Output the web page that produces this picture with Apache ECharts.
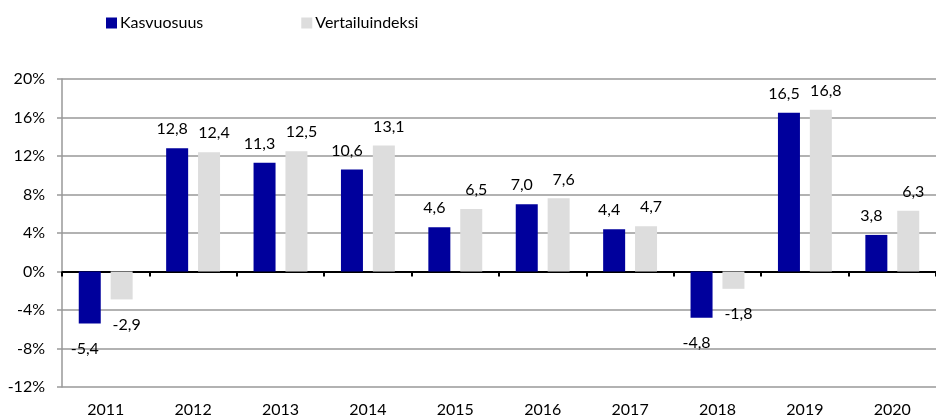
<!DOCTYPE html>
<html>
<head>
<meta charset="utf-8">
<script src="https://cdn.jsdelivr.net/npm/echarts@6/dist/echarts.min.js"></script>
<style>
  html, body { margin: 0; padding: 0; background: #fff; }
  #chart { width: 936px; height: 419px; }
</style>
</head>
<body>
<div id="chart"></div>
<script>
const years = ['2011', '2012', '2013', '2014', '2015', '2016', '2017', '2018', '2019', '2020'];
const kasvuosuus = [-5.4, 12.8, 11.3, 10.6, 4.6, 7.0, 4.4, -4.8, 16.5, 3.8];
const vertailuindeksi = [-2.9, 12.4, 12.5, 13.1, 6.5, 7.6, 4.7, -1.8, 16.8, 6.3];
const yTicks = { min: -12, max: 20, interval: 4 };

const font = 'Lato, "Open Sans", sans-serif';

// negatiivisille arvoille label vähän kauemmas palkin alle
const toItems = (list) => list.map((v) => ({
  value: v,
  label: v < 0 ? { distance: 17 } : {},
}));

const fmt = (p) => p.value.toFixed(1).replace('.', ',');

const chart = echarts.init(document.getElementById('chart'), null, { renderer: 'canvas' });

chart.setOption({
  animation: false,
  textStyle: { fontFamily: font },
  legend: {
    left: 101,
    top: 10,
    itemWidth: 11,
    itemHeight: 11,
    itemGap: 98,
    icon: 'rect',
    textStyle: { fontFamily: font, fontSize: 16, color: '#000', padding: [0, 0, 0, -2] },
    data: ['Kasvuosuus', 'Vertailuindeksi'],
  },
  grid: { left: 62, right: -11, top: 79, bottom: 32 },
  xAxis: [
    {
      type: 'category',
      data: years,
      axisLine: { onZero: true, lineStyle: { color: '#000', width: 2 } },
      axisTick: { show: true, length: 5, lineStyle: { color: '#000', width: 2 } },
      axisLabel: { show: false },
    },
    {
      type: 'category',
      data: years,
      position: 'bottom',
      axisLine: { show: false },
      axisTick: { show: false },
      axisLabel: { fontFamily: font, fontSize: 16, color: '#000', margin: 15 },
    },
  ],
  yAxis: {
    type: 'value',
    min: yTicks.min,
    max: yTicks.max,
    interval: yTicks.interval,
    axisLine: { show: true, lineStyle: { color: '#999', width: 1.5 } },
    axisTick: { show: true, length: 5, lineStyle: { color: '#999', width: 1.5 } },
    splitLine: { lineStyle: { color: '#999', width: 1.5 } },
    axisLabel: {
      fontFamily: font, fontSize: 16, color: '#000', margin: 17,
      formatter: (v) => v + '%',
    },
  },
  series: [
    {
      name: 'Kasvuosuus',
      type: 'bar',
      data: toItems(kasvuosuus),
      barWidth: 22,
      barGap: '45%',
      itemStyle: { color: '#00009c' },
      label: {
        show: true, position: 'outside', distance: 11, offset: [-5, 0],
        fontFamily: font, fontSize: 16, color: '#000', formatter: fmt,
      },
    },
    {
      name: 'Vertailuindeksi',
      type: 'bar',
      data: toItems(vertailuindeksi),
      barWidth: 22,
      itemStyle: { color: '#dddddd' },
      label: {
        show: true, position: 'outside', distance: 11, offset: [5, 0],
        fontFamily: font, fontSize: 16, color: '#000', formatter: fmt,
      },
    },
  ],
});
</script>
</body>
</html>
